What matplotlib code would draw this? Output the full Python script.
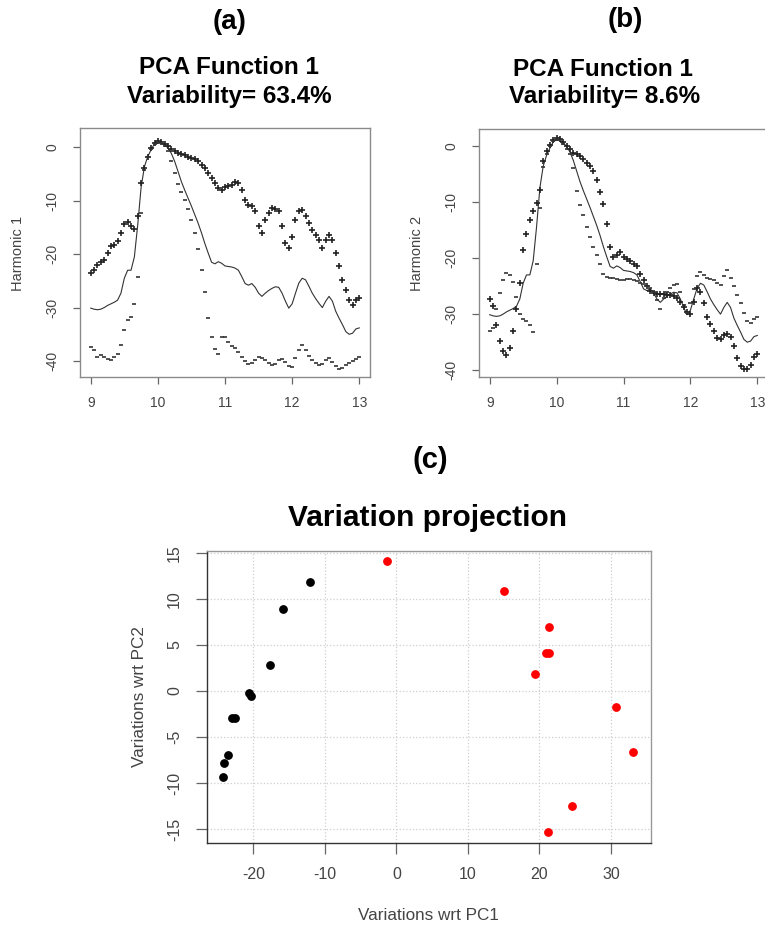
import numpy as np
import matplotlib
matplotlib.use("Agg")
import matplotlib.pyplot as plt

plt.rcParams['font.family'] = ['Liberation Sans', 'DejaVu Sans']
plt.rcParams['axes.unicode_minus'] = False

# grid of the functional curves (9 .. 13, step 0.05)
t = np.linspace(9, 13, 81)

# mean curve (solid line), same in both panels
mean_curve = [
    -30.1, -30.3, -30.4, -30.3, -30.0, -29.6, -29.3, -29.0, -28.6, -27.3,
    -24.5, -23.0, -23.0, -20.5, -14.5, -7.5, -3.6, -1.7, -0.4, 0.7,
    1.1, 0.9, 0.5, -0.1, -1.1, -2.6, -4.5, -6.4, -8.0, -9.5,
    -11.0, -12.6, -14.2, -16.0, -18.0, -19.8, -21.5, -21.8, -21.4, -21.7,
    -22.2, -22.3, -22.4, -22.6, -23.0, -24.2, -25.5, -25.8, -25.5, -26.2,
    -27.3, -27.9, -27.3, -26.8, -26.4, -26.1, -26.2, -27.3, -28.8, -30.1,
    -29.3, -27.3, -25.4, -24.5, -24.8, -26.0, -27.3, -28.3, -29.2, -30.0,
    -28.8, -27.9, -28.8, -30.7, -32.0, -33.2, -34.5, -35.0, -34.8, -34.0,
    -33.8]

# harmonic 1: mean + / - perturbation
h1_plus = [
    -23.5, -23.0, -22.0, -21.4, -21.0, -19.8, -18.5, -18.3, -17.6, -16.0,
    -14.3, -14.0, -14.8, -15.2, -12.9, -6.7, -3.9, -1.7, -0.1, 0.8,
    1.2, 1.0, 0.7, 0.2, -0.3, -0.7, -1.1, -1.3, -1.5, -1.7,
    -1.9, -2.2, -2.6, -3.2, -3.9, -4.8, -5.7, -6.7, -7.6, -7.9,
    -7.4, -7.3, -7.0, -6.5, -6.6, -7.9, -9.8, -10.7, -11.0, -12.0,
    -14.8, -16.0, -13.6, -12.3, -11.4, -11.5, -12.0, -14.8, -17.9, -18.9,
    -16.7, -13.6, -12.0, -11.8, -12.9, -14.2, -15.4, -16.4, -17.3, -18.9,
    -17.3, -16.4, -17.3, -19.8, -22.3, -24.8, -26.7, -28.5, -29.5, -28.6,
    -28.2]
h1_minus = [
    -37.3, -37.9, -39.2, -38.8, -39.2, -39.7, -39.8, -39.2, -38.6, -37.0,
    -34.2, -32.3, -31.7, -29.4, -24.2, -12.3, -4.2, -1.7, -0.3, 0.7,
    1.1, 0.8, 0.3, -0.7, -2.6, -4.8, -6.8, -8.3, -9.8, -11.5,
    -13.5, -16.0, -19.0, -23.0, -27.0, -32.0, -35.5, -37.8, -38.7, -35.5,
    -35.5, -36.5, -37.2, -37.6, -38.3, -39.3, -40.0, -40.5, -40.3, -39.8,
    -39.3, -39.4, -39.8, -40.4, -40.8, -40.5, -39.8, -39.7, -40.2, -41.0,
    -41.2, -39.5, -37.9, -37.0, -37.9, -39.0, -39.8, -40.4, -40.8, -40.5,
    -39.9, -39.5, -40.2, -41.0, -41.5, -41.3, -40.8, -40.4, -40.0, -39.6,
    -39.2]

# harmonic 2: mean + / - perturbation
h2_plus = [
    -27.3, -28.5, -32.0, -34.8, -36.5, -37.3, -36.0, -33.0, -29.0, -24.5,
    -18.5, -15.8, -13.2, -11.6, -10.2, -7.8, -2.7, -0.9, 0.2, 1.0,
    1.4, 1.3, 0.6, 0.0, -0.6, -1.2, -1.5, -1.8, -2.4, -3.0,
    -3.6, -4.5, -6.1, -8.2, -10.3, -14.0, -18.0, -19.8, -19.5, -18.9,
    -19.8, -20.2, -20.6, -21.0, -21.5, -22.8, -24.0, -25.0, -25.8, -26.2,
    -26.4, -26.4, -26.4, -26.5, -26.6, -26.7, -27.2, -27.9, -28.8, -29.6,
    -30.0, -27.8, -25.3, -26.0, -28.0, -30.5, -31.8, -33.0, -34.3, -34.5,
    -33.8, -33.6, -34.0, -35.6, -37.8, -39.2, -39.8, -39.8, -39.0, -37.6,
    -37.1]
h2_minus = [
    -33.0, -32.5, -29.0, -26.2, -24.0, -22.6, -23.0, -24.2, -27.0, -30.0,
    -30.8, -31.2, -32.0, -33.2, -21.0, -11.0, -3.8, -1.5, 0.0, 0.9,
    1.2, 1.0, 0.4, -0.5, -1.5, -4.0, -8.0, -10.6, -12.4, -14.5,
    -16.3, -18.0, -19.5, -21.0, -22.8, -23.4, -23.5, -23.6, -23.7, -23.9,
    -24.0, -23.8, -23.7, -23.9, -24.1, -24.4, -24.7, -25.0, -25.3, -26.0,
    -27.5, -29.0, -27.2, -26.0, -25.4, -24.8, -24.6, -26.0, -28.3, -29.8,
    -28.0, -25.5, -23.2, -22.5, -23.0, -23.5, -23.8, -24.0, -24.4, -24.8,
    -23.2, -22.2, -23.5, -25.0, -26.5, -28.0, -29.8, -31.2, -31.5, -30.9,
    -30.5]

# projection scores on PC1 / PC2
pc1_black = [-12.05, -15.9, -17.6, -20.6, -20.3, -23.0, -22.5, -23.5, -24.15, -24.3]
pc2_black = [11.8, 8.9, 2.8, -0.2, -0.5, -2.95, -2.9, -6.9, -7.8, -9.3]
pc1_red = [-1.3, 15.1, 21.3, 20.95, 21.4, 19.4, 30.7, 33.1, 24.5, 21.2]
pc2_red = [14.1, 10.9, 7.0, 4.1, 4.1, 1.8, -1.7, -6.6, -12.5, -15.3]

W, H = 765, 926
fig = plt.figure(figsize=(W / 100, H / 100), dpi=100)


def box(l, t_, r, b):
    return [l / W, 1 - b / H, (r - l) / W, (b - t_) / H]


def ftext(x, y, s, **kw):
    fig.text(x / W, 1 - y / H, s, ha='center', va='center', **kw)


def style_axes(ax, tick_len, pad_x, pad_y, fs, spine_col):
    for sp in ax.spines.values():
        sp.set_color(spine_col)
        sp.set_linewidth(1.0)
    ax.tick_params(direction='out', length=tick_len, width=0.9, color='#666666',
                   labelsize=fs, labelcolor='#444444')
    ax.tick_params(axis='x', pad=pad_x)
    ax.tick_params(axis='y', pad=pad_y)
    for lab in ax.get_yticklabels():
        lab.set_rotation(90)
        lab.set_va('center')
        lab.set_ha('right')


def fpca_panel(ax, plus, minus, ylim):
    ax.plot(t, mean_curve, color='#333333', lw=0.8)
    ax.plot(t, plus, ls='none', marker='+', ms=5, mew=1.2, color='#222222')
    ax.plot(t, minus, ls='none', marker='_', ms=3.5, mew=1.2, color='#333333')
    ax.set_xlim(8.84, 13.16)
    ax.set_ylim(*ylim)
    ax.set_xticks([9, 10, 11, 12, 13])
    ax.set_yticks([0, -10, -20, -30, -40])
    style_axes(ax, 5, 9, 10, 10, '#8a8a8a')


ax_a = fig.add_axes(box(80, 128, 370, 377))
fpca_panel(ax_a, h1_plus, h1_minus, (-43.0, 3.64))

ax_b = fig.add_axes(box(479, 129, 768, 377))
fpca_panel(ax_b, h2_plus, h2_minus, (-41.2, 3.0))

ax_c = fig.add_axes(box(207, 551, 651, 843))
ax_c.scatter(pc1_black, pc2_black, s=28, color='black', zorder=3)
ax_c.scatter(pc1_red, pc2_red, s=28, color='red', zorder=3)
ax_c.set_xlim(-26.47, 35.6)
ax_c.set_ylim(-16.5, 15.2)
ax_c.set_xticks([-20, -10, 0, 10, 20, 30])
ax_c.set_yticks([-15, -10, -5, 0, 5, 10, 15])
ax_c.grid(True, ls=':', color='#cfcfcf', lw=0.9)
style_axes(ax_c, 8, 9, 10, 11.5, '#999999')
ax_c.spines['left'].set_color('#333333')
ax_c.spines['bottom'].set_color('#333333')

# titles and axis labels
ftext(230, 22, '(a)', fontsize=20, fontweight='bold')
ftext(229, 68, 'PCA Function 1', fontsize=17.5, fontweight='bold')
ftext(229, 97, 'Variability= 63.4%', fontsize=17.5, fontweight='bold')
ftext(625, 20, '(b)', fontsize=20, fontweight='bold')
ftext(603, 70, 'PCA Function 1', fontsize=17.5, fontweight='bold')
ftext(605, 97, 'Variability= 8.6%', fontsize=17.5, fontweight='bold')
ftext(430, 460, '(c)', fontsize=21, fontweight='bold')
ftext(428, 518, 'Variation projection', fontsize=21.5, fontweight='bold')

ftext(18, 253, 'Harmonic 1', fontsize=10.5, rotation=90, color='#444444')
ftext(417, 253, 'Harmonic 2', fontsize=10.5, rotation=90, color='#444444')
ftext(428, 915, 'Variations wrt PC1', fontsize=12.3, color='#444444')
ftext(140, 697, 'Variations wrt PC2', fontsize=12.3, rotation=90, color='#444444')

fig.savefig('out.png', dpi=100)
